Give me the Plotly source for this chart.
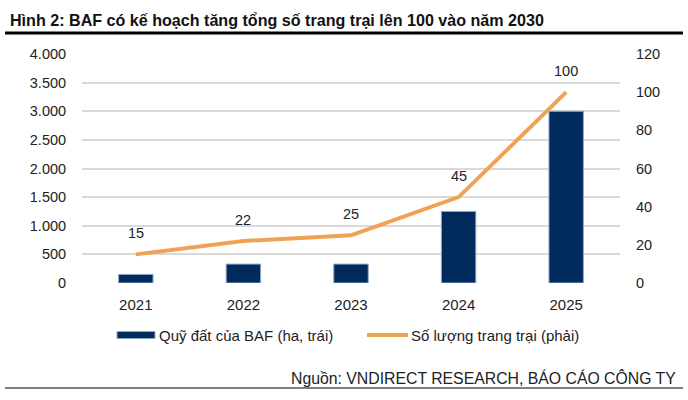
import plotly.graph_objects as go

years = ["2021", "2022", "2023", "2024", "2025"]
land_fund = [150, 330, 330, 1250, 3000]
farms = [15, 22, 25, 45, 100]
left_ticks = [0, 500, 1000, 1500, 2000, 2500, 3000, 3500, 4000]
left_tick_text = ["0", "500", "1.000", "1.500", "2.000", "2.500", "3.000", "3.500", "4.000"]
right_ticks = [0, 20, 40, 60, 80, 100, 120]
bar_name = "Quỹ đất của BAF (ha, trái)"
line_name = "Số lượng trang trại (phải)"

BAR_COLOR = "#002B5C"
BAR_EDGE = "#8FA8C8"
LINE_COLOR = "#F0A254"

W, H = 688, 400
def px(x): return x / W
def py(y): return (H - y) / H

FONT = "Liberation Sans, Arial, sans-serif"
fig = go.Figure()
fig.add_trace(go.Bar(
    x=years, y=land_fund, name=bar_name,
    marker=dict(color=BAR_COLOR, line=dict(color=BAR_EDGE, width=1)),
    width=0.32, yaxis="y", showlegend=False,
))
fig.add_trace(go.Scatter(
    x=years, y=farms, name=line_name, mode="lines",
    line=dict(color=LINE_COLOR, width=4), yaxis="y2", showlegend=False,
))
for i, v in enumerate(farms):
    fig.add_annotation(x=i, y=v, xref="x", yref="y2", text=str(v), showarrow=False,
                       yshift=21, font=dict(family=FONT, size=14.5, color="#222"))

# title, source and rules
fig.add_annotation(x=px(8), y=py(20), xref="paper", yref="paper", xanchor="left", yanchor="middle",
                   text="<b>Hình 2: BAF có kế hoạch tăng tổng số trang trại lên 100 vào năm 2030</b>",
                   showarrow=False, font=dict(family=FONT, size=16.1, color="#111"))
fig.add_annotation(x=px(678), y=py(378), xref="paper", yref="paper", xanchor="right", yanchor="middle",
                   text="Nguồn: VNDIRECT RESEARCH, BÁO CÁO CÔNG TY",
                   showarrow=False, font=dict(family=FONT, size=15.8, color="#222"))
fig.add_shape(type="line", xref="paper", yref="paper", x0=px(5), x1=px(683), y0=py(33), y1=py(33),
              line=dict(color="black", width=3))
fig.add_shape(type="line", xref="paper", yref="paper", x0=px(5), x1=px(683), y0=py(388), y1=py(388),
              line=dict(color="black", width=1))

# legend
fig.add_shape(type="rect", xref="paper", yref="paper", x0=px(117), x1=px(155), y0=py(338.5), y1=py(331.5),
              fillcolor=BAR_COLOR, line=dict(color=BAR_EDGE, width=1))
fig.add_annotation(x=px(157), y=py(335), xref="paper", yref="paper", xanchor="left", yanchor="middle",
                   text=bar_name, showarrow=False, font=dict(family=FONT, size=15, color="#222"))
fig.add_shape(type="line", xref="paper", yref="paper", x0=px(367), x1=px(408), y0=py(335), y1=py(335),
              line=dict(color=LINE_COLOR, width=4))
fig.add_annotation(x=px(409), y=py(335), xref="paper", yref="paper", xanchor="left", yanchor="middle",
                   text=line_name, showarrow=False, font=dict(family=FONT, size=15, color="#222"))

fig.update_layout(
    width=W, height=H, margin=dict(l=0, r=0, t=0, b=0, autoexpand=False),
    paper_bgcolor="white", plot_bgcolor="white",
    font=dict(family=FONT, size=14, color="#222"),
    showlegend=False,
    xaxis=dict(type="category", range=[-0.5, 4.5], domain=[px(82), px(620)], showgrid=False, ticks="outside", ticklen=8,
               tickcolor="rgba(0,0,0,0)", showline=False, tickfont=dict(size=15), automargin=False),
    yaxis=dict(domain=[py(283), py(54)], range=[0, 4000], tickvals=left_ticks, ticktext=left_tick_text,
               gridcolor="#D9D9D9", gridwidth=1.5, zeroline=False, ticks="outside", ticklen=12,
               tickcolor="rgba(0,0,0,0)", tickfont=dict(size=14.5), automargin=False),
    yaxis2=dict(overlaying="y", side="right", range=[0, 120], tickvals=right_ticks, showgrid=False,
                zeroline=False, ticks="outside", ticklen=12, tickcolor="rgba(0,0,0,0)", tickfont=dict(size=14.5),
                automargin=False),
)
fig.write_html("out.html")
